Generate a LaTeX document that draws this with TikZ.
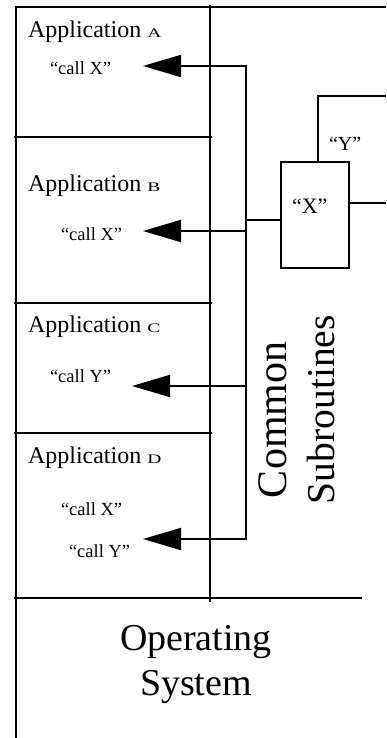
\documentclass[tikz,border=0pt]{standalone}
\usepackage{fontspec}
\setmainfont{Liberation Serif}
\usetikzlibrary{arrows.meta}
\newcommand{\fsz}[1]{\fontsize{#1}{#1}\selectfont}
\newcommand{\smallcap}[1]{\scalebox{1.5}[1]{\fsz{13}#1}}
\begin{document}
\begin{tikzpicture}[x=1pt,y=-1pt,line width=2pt,
  txt/.style={inner sep=0pt,anchor=base west},
  app/.style={txt,font=\fsz{24}},
  call/.style={txt,font=\fsz{18.5}},
  quote/.style={txt,font=\fsz{22}},
  big/.style={inner sep=0pt,anchor=base,font=\fsz{38}},
  vert/.style={inner sep=0pt,anchor=base west,rotate=90,font=\fsz{41}},
  callarrow/.style={-{Triangle[length=38pt,width=22pt]}},
  subbox/.style={draw,inner sep=0pt,minimum width=68pt,minimum height=106pt}]
\useasboundingbox (0,0) rectangle (386,738);
% frame
\draw (16,7) -- (386,7);
\draw (16,6) -- (16,738);
\draw (210,5) -- (210,602);
\draw (14,137) -- (212,137);
\draw (14,303) -- (212,303);
\draw (14,433) -- (212,433);
\draw (14,598) -- (362,598);
% application labels
\node[app] (appA) at (27,38) {Application \smallcap{A}};
\node[app] (appB) at (27,191) {Application \smallcap{B}};
\node[app] (appC) at (27,332) {Application \smallcap{C}};
\node[app] (appD) at (27,463) {Application \smallcap{D}};
% call texts
\node[call] (cA) at (49,75) {“call X”};
\node[call] (cB) at (60,240) {“call X”};
\node[call] (cC) at (49,382) {“call Y”};
\node[call] (cDx) at (60,515) {“call X”};
\node[call] (cDy) at (68,557) {“call Y”};
% bus and arrows
\coordinate (busA) at (247,66);
\coordinate (busB) at (247,231);
\coordinate (busX) at (246,220);
\coordinate (busC) at (247,386);
\coordinate (busD) at (247,539);
\coordinate (tipA) at (143,66);
\coordinate (tipB) at (143,231);
\coordinate (tipC) at (132,386);
\coordinate (tipD) at (143,539);
\draw (246,66) -- (246,539);
\draw[callarrow] (busA) -- (tipA);
\draw[callarrow] (busB) -- (tipB);
\draw[callarrow] (busC) -- (tipC);
\draw[callarrow] (busD) -- (tipD);
% subroutine box
\node[subbox] (xbox) at (315,215) {};
\node[quote] (xlabel) at (291,213) {“X”};
\node[quote,font=\fsz{20}] (ylabel) at (328,151) {“Y”};
\coordinate (ytop) at (318,96);
\coordinate (yend) at (386,96);
\coordinate (xout) at (386,203);
\draw (xbox.north -| ytop) -- (ytop) -- (yend);
\draw (xbox.east |- xout) -- (xout);
\draw (busX) -- (xbox.west |- busX);
% rotated label
\node[vert,font=\fsz{42}] (common) at (286,499) {Common};
\node[vert,font=\fsz{39.5}] (subr) at (334,505) {Subroutines};
% operating system
\node[big] (os1) at (196,650) {Operating};
\node[big] (os2) at (196,695) {System};
\end{tikzpicture}
\end{document}
